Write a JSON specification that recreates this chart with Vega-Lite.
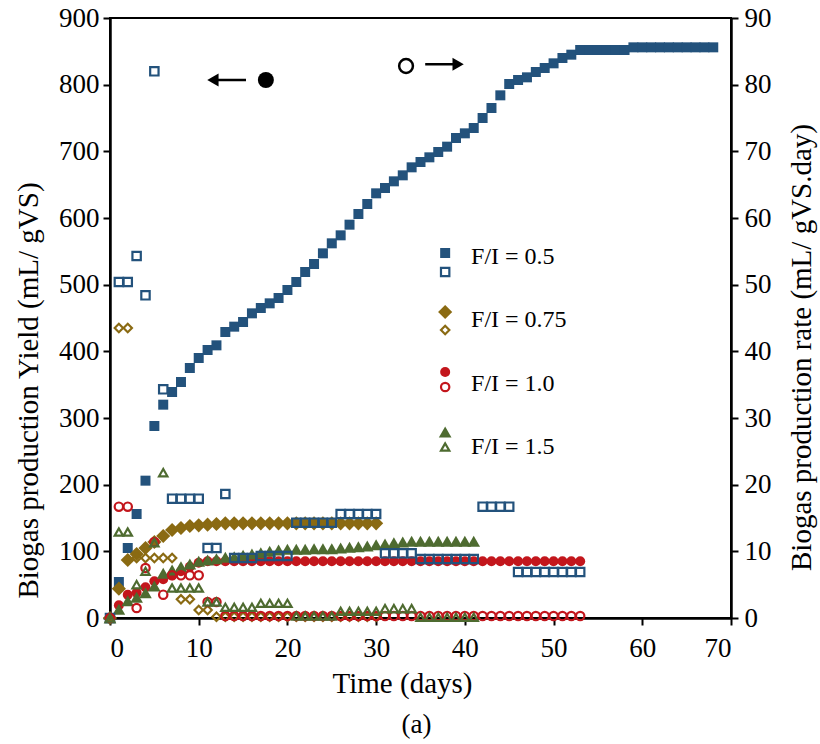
{
  "$schema": "https://vega.github.io/schema/vega-lite/v6.json",
  "width": 621,
  "height": 600,
  "autosize": {"type": "none"},
  "padding": {"left": 110, "top": 18, "right": 89, "bottom": 126},
  "background": "white",
  "title": {"text": "(a)", "orient": "bottom", "anchor": "middle", "font": "Liberation Serif", "fontSize": 27, "fontWeight": "normal", "color": "black", "offset": 14, "dx": -4},
  "config": {
    "view": {"stroke": "black", "strokeWidth": 2},
    "axis": {"grid": false, "domainColor": "black", "domainWidth": 2.5, "tickColor": "black", "tickWidth": 2, "tickSize": 7, "labelFont": "Liberation Serif", "labelFontSize": 27, "labelColor": "black", "titleFont": "Liberation Serif", "titleFontSize": 29, "titleFontWeight": "normal", "titleColor": "black"}
  },
  "datasets": {
    "yield": [
      {"f":"0.5","d":0,"v":0},{"f":"0.5","d":1,"v":54},{"f":"0.5","d":2,"v":105},{"f":"0.5","d":3,"v":156},{"f":"0.5","d":4,"v":206},{"f":"0.5","d":5,"v":288},{"f":"0.5","d":6,"v":320},{"f":"0.5","d":7,"v":339},{"f":"0.5","d":8,"v":354},{"f":"0.5","d":9,"v":375},{"f":"0.5","d":10,"v":390},{"f":"0.5","d":11,"v":402},{"f":"0.5","d":12,"v":409},{"f":"0.5","d":13,"v":429},{"f":"0.5","d":14,"v":437},{"f":"0.5","d":15,"v":444},{"f":"0.5","d":16,"v":457},{"f":"0.5","d":17,"v":465},{"f":"0.5","d":18,"v":472},{"f":"0.5","d":19,"v":480},{"f":"0.5","d":20,"v":492},{"f":"0.5","d":21,"v":504},{"f":"0.5","d":22,"v":519},{"f":"0.5","d":23,"v":531},{"f":"0.5","d":24,"v":547},{"f":"0.5","d":25,"v":562},{"f":"0.5","d":26,"v":574},{"f":"0.5","d":27,"v":590},{"f":"0.5","d":28,"v":606},{"f":"0.5","d":29,"v":621},{"f":"0.5","d":30,"v":637},{"f":"0.5","d":31,"v":645},{"f":"0.5","d":32,"v":655},{"f":"0.5","d":33,"v":664},{"f":"0.5","d":34,"v":676},{"f":"0.5","d":35,"v":684},{"f":"0.5","d":36,"v":691},{"f":"0.5","d":37,"v":699},{"f":"0.5","d":38,"v":707},{"f":"0.5","d":39,"v":720},{"f":"0.5","d":40,"v":727},{"f":"0.5","d":41,"v":735},{"f":"0.5","d":42,"v":750},{"f":"0.5","d":43,"v":765},{"f":"0.5","d":44,"v":784},{"f":"0.5","d":45,"v":801},{"f":"0.5","d":46,"v":807},{"f":"0.5","d":47,"v":811},{"f":"0.5","d":48,"v":819},{"f":"0.5","d":49,"v":825},{"f":"0.5","d":50,"v":832},{"f":"0.5","d":51,"v":840},{"f":"0.5","d":52,"v":845},{"f":"0.5","d":53,"v":852},{"f":"0.5","d":54,"v":852},{"f":"0.5","d":55,"v":852},{"f":"0.5","d":56,"v":852},{"f":"0.5","d":57,"v":852},{"f":"0.5","d":58,"v":852},{"f":"0.5","d":59,"v":856},{"f":"0.5","d":60,"v":856},{"f":"0.5","d":61,"v":856},{"f":"0.5","d":62,"v":856},{"f":"0.5","d":63,"v":856},{"f":"0.5","d":64,"v":856},{"f":"0.5","d":65,"v":856},{"f":"0.5","d":66,"v":856},{"f":"0.5","d":67,"v":856},{"f":"0.5","d":68,"v":856},
      {"f":"0.75","d":0,"v":0},{"f":"0.75","d":1,"v":44},{"f":"0.75","d":2,"v":87},{"f":"0.75","d":3,"v":96},{"f":"0.75","d":4,"v":105},{"f":"0.75","d":5,"v":114},{"f":"0.75","d":6,"v":123},{"f":"0.75","d":7,"v":132},{"f":"0.75","d":8,"v":135},{"f":"0.75","d":9,"v":138},{"f":"0.75","d":10,"v":139},{"f":"0.75","d":11,"v":140},{"f":"0.75","d":12,"v":141},{"f":"0.75","d":13,"v":142},{"f":"0.75","d":14,"v":142},{"f":"0.75","d":15,"v":142},{"f":"0.75","d":16,"v":142},{"f":"0.75","d":17,"v":142},{"f":"0.75","d":18,"v":142},{"f":"0.75","d":19,"v":142},{"f":"0.75","d":20,"v":142},{"f":"0.75","d":21,"v":142},{"f":"0.75","d":22,"v":142},{"f":"0.75","d":23,"v":142},{"f":"0.75","d":24,"v":142},{"f":"0.75","d":25,"v":142},{"f":"0.75","d":26,"v":142},{"f":"0.75","d":27,"v":142},{"f":"0.75","d":28,"v":142},{"f":"0.75","d":29,"v":142},{"f":"0.75","d":30,"v":142},
      {"f":"1.0","d":0,"v":0},{"f":"1.0","d":1,"v":19},{"f":"1.0","d":2,"v":35},{"f":"1.0","d":3,"v":38},{"f":"1.0","d":4,"v":46},{"f":"1.0","d":5,"v":55},{"f":"1.0","d":6,"v":58},{"f":"1.0","d":7,"v":64},{"f":"1.0","d":8,"v":70},{"f":"1.0","d":9,"v":77},{"f":"1.0","d":10,"v":83},{"f":"1.0","d":11,"v":85},{"f":"1.0","d":12,"v":85},{"f":"1.0","d":13,"v":85},{"f":"1.0","d":14,"v":85},{"f":"1.0","d":15,"v":85},{"f":"1.0","d":16,"v":85},{"f":"1.0","d":17,"v":85},{"f":"1.0","d":18,"v":85},{"f":"1.0","d":19,"v":85},{"f":"1.0","d":20,"v":85},{"f":"1.0","d":21,"v":85},{"f":"1.0","d":22,"v":85},{"f":"1.0","d":23,"v":85},{"f":"1.0","d":24,"v":85},{"f":"1.0","d":25,"v":85},{"f":"1.0","d":26,"v":85},{"f":"1.0","d":27,"v":85},{"f":"1.0","d":28,"v":85},{"f":"1.0","d":29,"v":85},{"f":"1.0","d":30,"v":85},{"f":"1.0","d":31,"v":85},{"f":"1.0","d":32,"v":85},{"f":"1.0","d":33,"v":85},{"f":"1.0","d":34,"v":85},{"f":"1.0","d":35,"v":85},{"f":"1.0","d":36,"v":85},{"f":"1.0","d":37,"v":85},{"f":"1.0","d":38,"v":85},{"f":"1.0","d":39,"v":85},{"f":"1.0","d":40,"v":85},{"f":"1.0","d":41,"v":85},{"f":"1.0","d":42,"v":85},{"f":"1.0","d":43,"v":85},{"f":"1.0","d":44,"v":85},{"f":"1.0","d":45,"v":85},{"f":"1.0","d":46,"v":85},{"f":"1.0","d":47,"v":85},{"f":"1.0","d":48,"v":85},{"f":"1.0","d":49,"v":85},{"f":"1.0","d":50,"v":85},{"f":"1.0","d":51,"v":85},{"f":"1.0","d":52,"v":85},{"f":"1.0","d":53,"v":85},
      {"f":"1.5","d":0,"v":0},{"f":"1.5","d":1,"v":13},{"f":"1.5","d":2,"v":26},{"f":"1.5","d":3,"v":31},{"f":"1.5","d":4,"v":38},{"f":"1.5","d":5,"v":48},{"f":"1.5","d":6,"v":67},{"f":"1.5","d":7,"v":72},{"f":"1.5","d":8,"v":77},{"f":"1.5","d":9,"v":81},{"f":"1.5","d":10,"v":85},{"f":"1.5","d":11,"v":87},{"f":"1.5","d":12,"v":89},{"f":"1.5","d":13,"v":91},{"f":"1.5","d":14,"v":92},{"f":"1.5","d":15,"v":94},{"f":"1.5","d":16,"v":96},{"f":"1.5","d":17,"v":98},{"f":"1.5","d":18,"v":100},{"f":"1.5","d":19,"v":102},{"f":"1.5","d":20,"v":103},{"f":"1.5","d":21,"v":103},{"f":"1.5","d":22,"v":103},{"f":"1.5","d":23,"v":104},{"f":"1.5","d":24,"v":104},{"f":"1.5","d":25,"v":104},{"f":"1.5","d":26,"v":105},{"f":"1.5","d":27,"v":106},{"f":"1.5","d":28,"v":107},{"f":"1.5","d":29,"v":108},{"f":"1.5","d":30,"v":110},{"f":"1.5","d":31,"v":111},{"f":"1.5","d":32,"v":113},{"f":"1.5","d":33,"v":114},{"f":"1.5","d":34,"v":115},{"f":"1.5","d":35,"v":115},{"f":"1.5","d":36,"v":115},{"f":"1.5","d":37,"v":115},{"f":"1.5","d":38,"v":115},{"f":"1.5","d":39,"v":115},{"f":"1.5","d":40,"v":115},{"f":"1.5","d":41,"v":115}
    ],
    "rate": [
      {"f":"0.5","d":0,"v":0},{"f":"0.5","d":1,"v":50.4},{"f":"0.5","d":2,"v":50.4},{"f":"0.5","d":3,"v":54.3},{"f":"0.5","d":4,"v":48.4},{"f":"0.5","d":5,"v":82},{"f":"0.5","d":6,"v":34.3},{"f":"0.5","d":7,"v":17.9},{"f":"0.5","d":8,"v":17.9},{"f":"0.5","d":9,"v":17.9},{"f":"0.5","d":10,"v":17.9},{"f":"0.5","d":11,"v":10.5},{"f":"0.5","d":12,"v":10.5},{"f":"0.5","d":13,"v":18.6},{"f":"0.5","d":14,"v":9},{"f":"0.5","d":15,"v":9},{"f":"0.5","d":16,"v":9},{"f":"0.5","d":17,"v":9.3},{"f":"0.5","d":18,"v":9.3},{"f":"0.5","d":19,"v":9.3},{"f":"0.5","d":20,"v":9.3},{"f":"0.5","d":21,"v":14.3},{"f":"0.5","d":22,"v":14.3},{"f":"0.5","d":23,"v":14.3},{"f":"0.5","d":24,"v":14.3},{"f":"0.5","d":25,"v":14.3},{"f":"0.5","d":26,"v":15.6},{"f":"0.5","d":27,"v":15.6},{"f":"0.5","d":28,"v":15.6},{"f":"0.5","d":29,"v":15.6},{"f":"0.5","d":30,"v":15.6},{"f":"0.5","d":31,"v":9.7},{"f":"0.5","d":32,"v":9.7},{"f":"0.5","d":33,"v":9.7},{"f":"0.5","d":34,"v":9.7},{"f":"0.5","d":35,"v":8.85},{"f":"0.5","d":36,"v":8.85},{"f":"0.5","d":37,"v":8.85},{"f":"0.5","d":38,"v":8.85},{"f":"0.5","d":39,"v":8.85},{"f":"0.5","d":40,"v":8.85},{"f":"0.5","d":41,"v":8.85},{"f":"0.5","d":42,"v":16.7},{"f":"0.5","d":43,"v":16.7},{"f":"0.5","d":44,"v":16.7},{"f":"0.5","d":45,"v":16.7},{"f":"0.5","d":46,"v":6.9},{"f":"0.5","d":47,"v":6.9},{"f":"0.5","d":48,"v":6.9},{"f":"0.5","d":49,"v":6.9},{"f":"0.5","d":50,"v":6.9},{"f":"0.5","d":51,"v":6.9},{"f":"0.5","d":52,"v":6.9},{"f":"0.5","d":53,"v":6.9},
      {"f":"0.75","d":0,"v":0},{"f":"0.75","d":1,"v":43.5},{"f":"0.75","d":2,"v":43.5},{"f":"0.75","d":3,"v":9},{"f":"0.75","d":4,"v":9},{"f":"0.75","d":5,"v":9},{"f":"0.75","d":6,"v":9},{"f":"0.75","d":7,"v":9},{"f":"0.75","d":8,"v":2.8},{"f":"0.75","d":9,"v":2.8},{"f":"0.75","d":10,"v":1.2},{"f":"0.75","d":11,"v":1.2},{"f":"0.75","d":12,"v":0.2},{"f":"0.75","d":13,"v":0.2},{"f":"0.75","d":14,"v":0.2},{"f":"0.75","d":15,"v":0.2},{"f":"0.75","d":16,"v":0.2},{"f":"0.75","d":17,"v":0.2},{"f":"0.75","d":18,"v":0.2},{"f":"0.75","d":19,"v":0.2},{"f":"0.75","d":20,"v":0.2},{"f":"0.75","d":21,"v":0.2},{"f":"0.75","d":22,"v":0.2},{"f":"0.75","d":23,"v":0.2},{"f":"0.75","d":24,"v":0.2},{"f":"0.75","d":25,"v":0.2},{"f":"0.75","d":26,"v":0.2},{"f":"0.75","d":27,"v":0.2},{"f":"0.75","d":28,"v":0.2},{"f":"0.75","d":29,"v":0.2},{"f":"0.75","d":30,"v":0.2},
      {"f":"1.0","d":0,"v":0},{"f":"1.0","d":1,"v":16.7},{"f":"1.0","d":2,"v":16.7},{"f":"1.0","d":3,"v":1.5},{"f":"1.0","d":4,"v":7.5},{"f":"1.0","d":5,"v":11.4},{"f":"1.0","d":6,"v":3.5},{"f":"1.0","d":7,"v":6.4},{"f":"1.0","d":8,"v":6.4},{"f":"1.0","d":9,"v":6.4},{"f":"1.0","d":10,"v":6.4},{"f":"1.0","d":11,"v":2.4},{"f":"1.0","d":12,"v":2.4},{"f":"1.0","d":13,"v":0.3},{"f":"1.0","d":14,"v":0.3},{"f":"1.0","d":15,"v":0.3},{"f":"1.0","d":16,"v":0.3},{"f":"1.0","d":17,"v":0.3},{"f":"1.0","d":18,"v":0.3},{"f":"1.0","d":19,"v":0.3},{"f":"1.0","d":20,"v":0.3},{"f":"1.0","d":21,"v":0.3},{"f":"1.0","d":22,"v":0.3},{"f":"1.0","d":23,"v":0.3},{"f":"1.0","d":24,"v":0.3},{"f":"1.0","d":25,"v":0.3},{"f":"1.0","d":26,"v":0.3},{"f":"1.0","d":27,"v":0.3},{"f":"1.0","d":28,"v":0.3},{"f":"1.0","d":29,"v":0.3},{"f":"1.0","d":30,"v":0.3},{"f":"1.0","d":31,"v":0.3},{"f":"1.0","d":32,"v":0.3},{"f":"1.0","d":33,"v":0.3},{"f":"1.0","d":34,"v":0.3},{"f":"1.0","d":35,"v":0.3},{"f":"1.0","d":36,"v":0.3},{"f":"1.0","d":37,"v":0.3},{"f":"1.0","d":38,"v":0.3},{"f":"1.0","d":39,"v":0.3},{"f":"1.0","d":40,"v":0.3},{"f":"1.0","d":41,"v":0.3},{"f":"1.0","d":42,"v":0.3},{"f":"1.0","d":43,"v":0.3},{"f":"1.0","d":44,"v":0.3},{"f":"1.0","d":45,"v":0.3},{"f":"1.0","d":46,"v":0.3},{"f":"1.0","d":47,"v":0.3},{"f":"1.0","d":48,"v":0.3},{"f":"1.0","d":49,"v":0.3},{"f":"1.0","d":50,"v":0.3},{"f":"1.0","d":51,"v":0.3},{"f":"1.0","d":52,"v":0.3},{"f":"1.0","d":53,"v":0.3},
      {"f":"1.5","d":0,"v":0},{"f":"1.5","d":1,"v":12.9},{"f":"1.5","d":2,"v":12.9},{"f":"1.5","d":3,"v":5},{"f":"1.5","d":4,"v":7},{"f":"1.5","d":5,"v":11.3},{"f":"1.5","d":6,"v":21.8},{"f":"1.5","d":7,"v":4.5},{"f":"1.5","d":8,"v":4.5},{"f":"1.5","d":9,"v":4.5},{"f":"1.5","d":10,"v":4.5},{"f":"1.5","d":11,"v":2.4},{"f":"1.5","d":12,"v":2.4},{"f":"1.5","d":13,"v":1.6},{"f":"1.5","d":14,"v":1.6},{"f":"1.5","d":15,"v":1.6},{"f":"1.5","d":16,"v":1.6},{"f":"1.5","d":17,"v":2.2},{"f":"1.5","d":18,"v":2.2},{"f":"1.5","d":19,"v":2.2},{"f":"1.5","d":20,"v":2.2},{"f":"1.5","d":21,"v":0.3},{"f":"1.5","d":22,"v":0.3},{"f":"1.5","d":23,"v":0.3},{"f":"1.5","d":24,"v":0.3},{"f":"1.5","d":25,"v":0.3},{"f":"1.5","d":26,"v":1},{"f":"1.5","d":27,"v":1},{"f":"1.5","d":28,"v":1},{"f":"1.5","d":29,"v":1},{"f":"1.5","d":30,"v":1},{"f":"1.5","d":31,"v":1.4},{"f":"1.5","d":32,"v":1.4},{"f":"1.5","d":33,"v":1.4},{"f":"1.5","d":34,"v":1.4},{"f":"1.5","d":35,"v":0.1},{"f":"1.5","d":36,"v":0.1},{"f":"1.5","d":37,"v":0.1},{"f":"1.5","d":38,"v":0.1},{"f":"1.5","d":39,"v":0.1},{"f":"1.5","d":40,"v":0.1},{"f":"1.5","d":41,"v":0.1}
    ],
    "legend": [
      {"f":"0.5","label":"F/I = 0.5","fy":547.5,"hy":519,"ty":541.5},
      {"f":"0.75","label":"F/I = 0.75","fy":459,"hy":432,"ty":447},
      {"f":"1.0","label":"F/I = 1.0","fy":369,"hy":346.5,"ty":351},
      {"f":"1.5","label":"F/I = 1.5","fy":279,"hy":256.5,"ty":256.5}
    ],
    "arrows": [
      {"x1":11.6,"x2":15.33,"y":807,"dir":"left"},
      {"x1":35.53,"x2":39.24,"y":830.5,"dir":"right"}
    ]
  },
  "resolve": {"scale": {"y": "independent"}},
  "layer": [
    {
      "layer": [
        {
          "data": {"name": "yield"},
          "mark": {"type": "point", "filled": true, "opacity": 1},
          "encoding": {
            "x": {"field": "d", "type": "quantitative", "scale": {"domain": [0, 70], "nice": false}, "axis": {"values": [0,10,20,30,40,50,60,70], "title": "Time (days)", "labelPadding": 10, "titleX": 292, "titleY": 74, "titleBaseline": "alphabetic"}},
            "y": {"field": "v", "type": "quantitative", "scale": {"domain": [0, 900], "nice": false}, "axis": {"values": [0,100,200,300,400,500,600,700,800,900], "title": "Biogas  production Yield  (mL/ gVS)", "labelPadding": 4, "titleX": -82, "titleY": 372, "titleAngle": 270, "titleAlign": "center", "titleBaseline": "middle"}},
            "color": {"field": "f", "type": "nominal", "scale": {"domain": ["0.5","0.75","1.0","1.5"], "range": ["#23527c","#8a6a12","#c3161c","#4e6b30"]}, "legend": null},
            "shape": {"field": "f", "type": "nominal", "scale": {"domain": ["0.5","0.75","1.0","1.5"], "range": ["square","diamond","circle","triangle-up"]}, "legend": null},
            "size": {"field": "f", "type": "nominal", "scale": {"type": "ordinal", "domain": ["0.5","0.75","1.0","1.5"], "range": [100,200,100,160]}, "legend": null}
          }
        },
        {
          "data": {"name": "legend"},
          "mark": {"type": "point", "filled": true, "opacity": 1},
          "encoding": {
            "x": {"datum": 37.78},
            "y": {"field": "fy", "type": "quantitative"},
            "color": {"field": "f", "type": "nominal", "legend": null},
            "shape": {"field": "f", "type": "nominal", "legend": null},
            "size": {"field": "f", "type": "nominal", "scale": {"type": "ordinal", "domain": ["0.5","0.75","1.0","1.5"], "range": [100,200,100,160]}, "legend": null}
          }
        },
        {
          "data": {"name": "legend"},
          "mark": {"type": "point", "filled": false, "strokeWidth": 2.2, "size": 70, "opacity": 1},
          "encoding": {
            "x": {"datum": 37.78},
            "y": {"field": "hy", "type": "quantitative"},
            "color": {"field": "f", "type": "nominal", "legend": null},
            "shape": {"field": "f", "type": "nominal", "legend": null}
          }
        },
        {
          "data": {"name": "legend"},
          "mark": {"type": "text", "align": "left", "baseline": "middle", "font": "Liberation Serif", "fontSize": 24, "color": "black"},
          "encoding": {
            "x": {"datum": 40.7},
            "y": {"field": "ty", "type": "quantitative"},
            "text": {"field": "label"}
          }
        },
        {
          "data": {"name": "arrows"},
          "mark": {"type": "rule", "color": "black", "strokeWidth": 2.5},
          "encoding": {
            "x": {"field": "x1", "type": "quantitative"},
            "x2": {"field": "x2"},
            "y": {"field": "y", "type": "quantitative"}
          }
        },
        {
          "data": {"name": "arrows"},
          "transform": [{"filter": "datum.dir == 'left'"}],
          "mark": {"type": "point", "shape": "triangle-left", "filled": true, "size": 170, "color": "black", "opacity": 1},
          "encoding": {
            "x": {"field": "x1", "type": "quantitative"},
            "y": {"field": "y", "type": "quantitative"}
          }
        },
        {
          "data": {"name": "arrows"},
          "transform": [{"filter": "datum.dir == 'right'"}],
          "mark": {"type": "point", "shape": "triangle-right", "filled": true, "size": 170, "color": "black", "opacity": 1},
          "encoding": {
            "x": {"field": "x2", "type": "quantitative"},
            "y": {"field": "y", "type": "quantitative"}
          }
        },
        {
          "data": {"values": [{"x": 17.57, "y": 807}]},
          "mark": {"type": "point", "shape": "circle", "filled": true, "size": 256, "color": "black", "opacity": 1},
          "encoding": {
            "x": {"field": "x", "type": "quantitative"},
            "y": {"field": "y", "type": "quantitative"}
          }
        },
        {
          "data": {"values": [{"x": 33.37, "y": 828}]},
          "mark": {"type": "point", "shape": "circle", "filled": false, "strokeWidth": 2.5, "size": 190, "color": "black", "opacity": 1},
          "encoding": {
            "x": {"field": "x", "type": "quantitative"},
            "y": {"field": "y", "type": "quantitative"}
          }
        }
      ]
    },
    {
      "data": {"name": "rate"},
      "mark": {"type": "point", "filled": false, "strokeWidth": 2.2, "size": 70, "opacity": 1},
      "encoding": {
        "x": {"field": "d", "type": "quantitative"},
        "y": {"field": "v", "type": "quantitative", "scale": {"domain": [0, 90], "nice": false}, "axis": {"orient": "right", "values": [0,10,20,30,40,50,60,70,80,90], "title": "Biogas  production rate  (mL/ gVS.day)", "labelPadding": 6, "titleX": 70, "titleY": 329, "titleAngle": 270, "titleAlign": "center", "titleBaseline": "middle"}},
        "color": {"field": "f", "type": "nominal", "legend": null},
        "shape": {"field": "f", "type": "nominal", "legend": null}
      }
    }
  ]
}
